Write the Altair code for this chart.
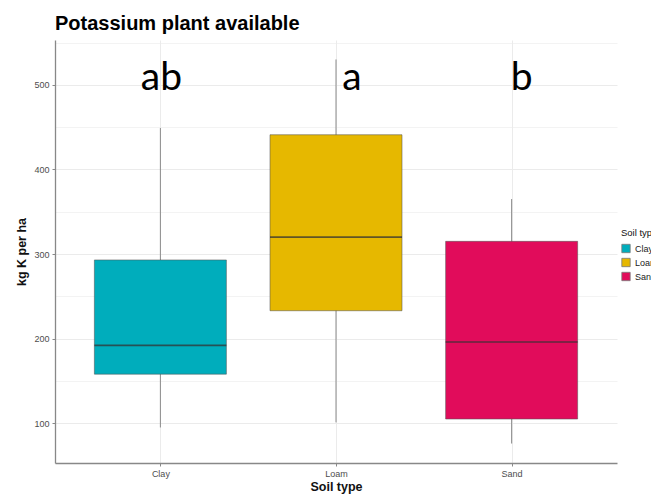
import altair as alt
import pandas as pd

soil = ["Clay", "Loam", "Sand"]
whisker_low = [95, 101, 76]
q1 = [158, 233, 105]
median = [192, 320, 196]
q3 = [293, 441, 315]
whisker_high = [449, 530, 365]
letters = ["ab", "a", "b"]
letter_y = [500, 500, 500]
colors = ["#00ADBC", "#E6B800", "#E10C5B"]

df = pd.DataFrame({
    "soil": soil, "lo": whisker_low, "q1": q1, "med": median,
    "q3": q3, "hi": whisker_high, "letter": letters, "ly": letter_y,
})

W, H = 562, 423
FONT = "Liberation Sans"

x = alt.X("soil:N", scale=alt.Scale(type="point", domain=soil, padding=0.6),
          axis=alt.Axis(title="Soil type", labelAngle=0, labelFontSize=9, labelColor="#4d4d4d",
                        labelFont=FONT, titleFont=FONT, titleFontSize=12.5, titleFontWeight="bold",
                        titleColor="#111", tickColor="#888", tickSize=3, domainColor="#888",
                        domainWidth=1.3, gridColor="#ebebeb", gridWidth=1, titlePadding=2,
                        labelPadding=3))
yscale = alt.Scale(domain=[53, 553], nice=False, zero=False)
yaxis = alt.Axis(title="kg K per ha", values=list(range(100, 551, 50)),
                 labelExpr="datum.value % 100 == 0 ? datum.label : ''",
                 tickOpacity={"expr": "datum.value % 100 == 0 ? 1 : 0"},
                 gridWidth={"expr": "datum.value % 100 == 0 ? 1 : 0.6"},
                 gridColor="#ebebeb", labelFontSize=9, labelColor="#4d4d4d", labelFont=FONT,
                 titleFont=FONT, titleFontSize=12.5, titleFontWeight="bold", titleColor="#111",
                 tickColor="#888", tickSize=3, domainColor="#888", domainWidth=1.3,
                 titlePadding=5, labelPadding=3)

base = alt.Chart(df)

whisk = base.mark_rule(color="#8a8a8a", strokeWidth=1).encode(
    x=x, y=alt.Y("lo:Q", scale=yscale, axis=yaxis), y2="hi:Q")

box = base.mark_bar(size=132, stroke="#555", strokeOpacity=0.55, strokeWidth=1).encode(
    x=x, y=alt.Y("q1:Q", scale=yscale, axis=yaxis), y2="q3:Q",
    color=alt.Color("soil:N", scale=alt.Scale(domain=soil, range=colors),
                    legend=alt.Legend(title="Soil type", orient="none", legendX=566, legendY=188,
                                      titleFont=FONT, labelFont=FONT, titleFontSize=9.5,
                                      titleFontWeight="normal", labelFontSize=9,
                                      titleColor="#111", labelColor="#222",
                                      symbolType="square", symbolSize=70,
                                      symbolStrokeColor="#777", symbolStrokeWidth=0.8,
                                      symbolOpacity=1, rowPadding=2, titlePadding=6)))

med = base.mark_tick(size=132, thickness=1.6, color="#333", opacity=0.75).encode(
    x=x, y=alt.Y("med:Q", scale=yscale, axis=yaxis))

texts = []
for lab, dxv in zip(letters, [1, 16, 10]):
    texts.append(base.transform_filter(alt.datum.letter == lab).mark_text(
        font="Lato", fontSize=39, color="#000", baseline="alphabetic", dx=dxv, dy=5,
        align="center").encode(x=x, y=alt.Y("ly:Q", scale=yscale, axis=yaxis), text="letter:N"))

chart = alt.layer(whisk, box, med, *texts).properties(
    width=W, height=H,
    title=alt.TitleParams("Potassium plant available", anchor="start", frame="group", font=FONT,
                          fontSize=20, fontWeight="bold", color="#000", offset=6),
    autosize=alt.AutoSizeParams(type="none"),
    padding={"left": 47, "top": 32, "right": 34, "bottom": 31},
).configure_view(stroke=None).configure_axisX(grid=True)

chart.save("out.html", embed_options={"renderer": "svg", "actions": False})
